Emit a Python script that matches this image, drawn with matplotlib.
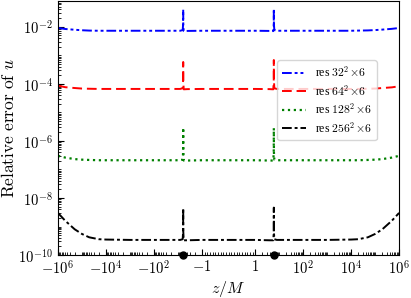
import matplotlib
matplotlib.use("Agg")
import matplotlib.pyplot as plt
import numpy as np

plt.rcParams['mathtext.fontset'] = 'cm'
plt.rcParams['font.family'] = ['DejaVu Serif']

# sample positions along z/M
z = [-1e6, -5e5, -2e5, -1e5, -5e4, -2e4, -1e4, -1e3, -1e2, -20, -8,
     -6.3, -6.05, -6.0, -5.95, -5.7, -4, -1, 0, 1, 4,
     5.7, 5.95, 6.0, 6.05, 6.3, 8, 20, 1e2, 1e3, 1e4, 2e4, 5e4, 1e5, 2e5, 5e5, 1e6]

err32 = [9.0e-3, 8.3e-3, 7.8e-3, 7.5e-3, 7.3e-3, 7.2e-3, 7.2e-3, 7.2e-3, 7.2e-3, 7.2e-3, 7.2e-3,
         7.6e-3, 1.2e-2, 4.0e-2, 1.1e-2, 7.0e-3, 7.1e-3, 7.2e-3, 7.2e-3, 7.2e-3, 7.1e-3,
         7.0e-3, 1.2e-2, 4.2e-2, 1.2e-2, 7.6e-3, 7.2e-3, 7.2e-3, 7.2e-3, 7.2e-3, 7.2e-3, 7.3e-3, 7.4e-3, 7.6e-3, 7.9e-3, 8.4e-3, 9.0e-3]

err64 = [8.6e-5, 7.6e-5, 7.1e-5, 6.8e-5, 6.7e-5, 6.6e-5, 6.6e-5, 6.6e-5, 6.6e-5, 6.6e-5, 6.6e-5,
         7.0e-5, 1.3e-4, 5.8e-4, 1.2e-4, 6.4e-5, 6.5e-5, 6.6e-5, 6.6e-5, 6.6e-5, 6.5e-5,
         6.4e-5, 1.3e-4, 6.8e-4, 1.3e-4, 7.0e-5, 6.6e-5, 6.6e-5, 6.6e-5, 6.6e-5, 6.6e-5, 6.6e-5, 6.7e-5, 6.8e-5, 7.1e-5, 7.5e-5, 8.2e-5]

err128 = [3.0e-7, 2.6e-7, 2.3e-7, 2.2e-7, 2.15e-7, 2.1e-7, 2.1e-7, 2.1e-7, 2.1e-7, 2.1e-7, 2.1e-7,
          2.2e-7, 4.0e-7, 2.9e-6, 4.0e-7, 2.05e-7, 2.05e-7, 2.1e-7, 2.1e-7, 2.1e-7, 2.05e-7,
          2.05e-7, 4.0e-7, 2.8e-6, 4.0e-7, 2.2e-7, 2.1e-7, 2.1e-7, 2.1e-7, 2.1e-7, 2.1e-7, 2.1e-7, 2.15e-7, 2.2e-7, 2.3e-7, 2.6e-7, 3.0e-7]

err256 = [3.0e-9, 1.6e-9, 8.0e-10, 5.5e-10, 4.2e-10, 3.6e-10, 3.5e-10, 3.4e-10, 3.4e-10, 3.4e-10, 3.4e-10,
          3.6e-10, 6.5e-10, 4.4e-9, 6.5e-10, 3.3e-10, 3.3e-10, 3.4e-10, 3.4e-10, 3.4e-10, 3.3e-10,
          3.3e-10, 6.5e-10, 4.6e-9, 6.5e-10, 3.6e-10, 3.4e-10, 3.4e-10, 3.4e-10, 3.4e-10, 3.5e-10, 3.6e-10, 4.2e-10, 5.5e-10, 8.0e-10, 1.6e-9, 3.0e-9]

labels = [r'res $32^2\!\times\!6$', r'res $64^2\!\times\!6$',
          r'res $128^2\!\times\!6$', r'res $256^2\!\times\!6$']
dots = [-6, 6]

fig = plt.figure(figsize=(4.11, 2.98), dpi=100)
ax = fig.add_axes([0.141, 0.144, 0.830, 0.853])

ax.plot(z, err32, color='blue', lw=1.4, dashes=(5, 1.5, 1.5, 1.5, 1.5, 1.5), label=labels[0])
ax.plot(z, err64, color='red', lw=1.4, dashes=(5, 2.5), label=labels[1])
ax.plot(z, err128, color='green', lw=1.6, ls=':', label=labels[2])
ax.plot(z, err256, color='black', lw=1.4, dashes=(5, 1.5, 1.5, 1.5), label=labels[3])

ax.set_xscale('symlog', linthresh=1, linscale=1)
ax.set_yscale('log')
ax.set_xlim(-1e6, 1e6)
ax.set_ylim(1e-10, 0.08)

ax.plot(dots, [1e-10, 1e-10], 'o', color='black', ms=5, clip_on=False, zorder=5)

xt = [-1e6, -1e4, -1e2, -1, 1, 1e2, 1e4, 1e6]
xtl = [r'$-10^6$', r'$-10^4$', r'$-10^2$', r'$-1$', r'$1$', r'$10^2$', r'$10^4$', r'$10^6$']
ax.set_xticks(xt)
ax.set_xticklabels(xtl)
minor = []
for d in range(0, 6):
    for s in range(2, 10):
        minor += [s * 10**d, -s * 10**d]
    minor += [10**d, -10**d]
minor += [k / 10 for k in range(-9, 10)]
ax.set_xticks(minor, minor=True)

yt = [1e-10, 1e-8, 1e-6, 1e-4, 1e-2]
ax.set_yticks(yt)
ax.set_yticklabels([r'$10^{-10}$', r'$10^{-8}$', r'$10^{-6}$', r'$10^{-4}$', r'$10^{-2}$'])
ax.yaxis.set_minor_locator(matplotlib.ticker.LogLocator(base=10, subs=range(1, 10), numticks=30))
ax.yaxis.set_minor_formatter(matplotlib.ticker.NullFormatter())

ax.tick_params(which='both', direction='in', labelsize=10.5)
ax.tick_params(which='major', length=4)
ax.tick_params(which='minor', length=2)
ax.tick_params(axis='x', pad=3)

ax.set_xlabel(r'$z/M$', fontsize=11.5, labelpad=1)
ax.set_ylabel(r'$\mathrm{Relative\ error\ of}\ u$', fontsize=12.5, labelpad=0)

ax.legend(loc='upper right', bbox_to_anchor=(0.952, 0.79),
          handlelength=2.0, borderpad=0.4, labelspacing=0.3, handletextpad=0.8,
          prop={'family': 'Liberation Serif', 'size': 8.5})

fig.savefig('out.png', dpi=100)
